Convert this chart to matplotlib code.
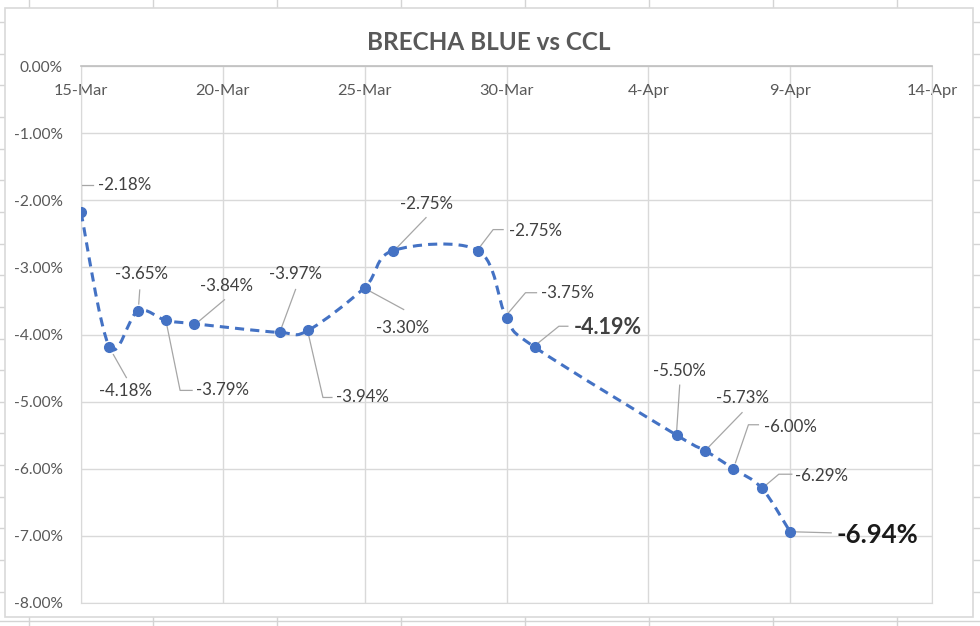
import datetime as dt
import matplotlib
matplotlib.use("Agg")
import matplotlib.pyplot as plt
import matplotlib.dates as mdates
import matplotlib.transforms as mtransforms
from matplotlib.path import Path
from matplotlib.patches import PathPatch, Rectangle
from matplotlib.lines import Line2D
from matplotlib.ticker import FuncFormatter, MultipleLocator

plt.rcParams['font.family'] = ['Lato', 'DejaVu Sans']

# datos (2021)
fechas = ["2021-03-15", "2021-03-16", "2021-03-17", "2021-03-18", "2021-03-19",
          "2021-03-22", "2021-03-23", "2021-03-25", "2021-03-26", "2021-03-29",
          "2021-03-30", "2021-03-31", "2021-04-05", "2021-04-06", "2021-04-07",
          "2021-04-08", "2021-04-09"]
brecha = [-2.18, -4.18, -3.65, -3.79, -3.84, -3.97, -3.94, -3.30, -2.75, -2.75,
          -3.75, -4.19, -5.50, -5.73, -6.00, -6.29, -6.94]
etiquetas = [f"{v:.2f}%" for v in brecha]
destacados = {11: 15.5, 16: 18.5}   # indice -> tamaño de fuente (negrita)

# posicion de etiquetas y lineas guia (pixeles respecto al punto, y hacia abajo)
pos_etiqueta = [(44, -27), (16, 44), (4, -37), (56, 70), (32, -38), (16, -58),
                (55, 67), (38, 40), (33, -47), (57, -20), (61, -25), (73, -20),
                (3, -64), (37, -53), (57, -42), (60, -12), (87, 3)]
guias = [[(0, -5), (0, -27), (12, -27)], [(4, 8), (17, 31)], [(1, -7), (2, -21)],
         [(1, 6), (14, 70), (26, 70)], [(5, -3), (30, -24)], [(2, -5), (16, -43)],
         [(1, 6), (15, 67), (24, 67)], [(4, 3), (39, 22)], [(4, -3), (33, -33)],
         [(2, -4), (15, -21), (25, -21)], [(2, -5), (19, -25), (30, -25)],
         [(3, -4), (24, -21), (33, -21)], [(0, -5), (3, -50)], [(4, -4), (37, -38)],
         [(2, -6), (15, -44), (25, -44)], [(4, -3), (17, -14), (30, -14)],
         [(5, 0), (41, 1)]]

W, H = 980, 626
fig = plt.figure(figsize=(W / 100, H / 100), dpi=100)


def fx(x):
    return x / W


def fy(y):
    return 1 - y / H


# cuadricula de la hoja de calculo alrededor del grafico
gris_hoja = '#d4d4d4'
for x in [29, 153, 277, 401, 525, 649, 773, 897]:
    fig.add_artist(Line2D([fx(x), fx(x)], [fy(0), fy(8)], color=gris_hoja, lw=1, zorder=-2))
    fig.add_artist(Line2D([fx(x), fx(x)], [fy(617), fy(626)], color=gris_hoja, lw=1, zorder=-2))
for k in range(20):
    y = 22 + 31.65 * k
    if y < 617:
        fig.add_artist(Line2D([fx(0), fx(5)], [fy(y), fy(y)], color=gris_hoja, lw=1, zorder=-2))
        fig.add_artist(Line2D([fx(973), fx(980)], [fy(y), fy(y)], color=gris_hoja, lw=1, zorder=-2))
fig.add_artist(Line2D([0, 1], [fy(621), fy(621)], color=gris_hoja, lw=1, zorder=-2))
fig.add_artist(Rectangle((fx(5), fy(617)), fx(968), 609 / H, facecolor='white',
                         edgecolor='#d9d9d9', lw=1.2, zorder=-1))

ax = fig.add_axes([fx(81), fy(603), fx(932 - 81), (603 - 66) / H])
ax.set_facecolor('none')

x = mdates.date2num([dt.datetime.strptime(f, "%Y-%m-%d") for f in fechas])
x0 = mdates.date2num(dt.datetime(2021, 3, 15))
x1 = mdates.date2num(dt.datetime(2021, 4, 14))
ax.set_xlim(x0, x1)
ax.set_ylim(-8, 0)

# linea suavizada (bezier tipo Catmull-Rom como Excel)
pts = list(zip(x, brecha))
verts = [pts[0]]
codes = [Path.MOVETO]
for i in range(len(pts) - 1):
    p0 = pts[i - 1] if i > 0 else pts[i]
    p1, p2 = pts[i], pts[i + 1]
    p3 = pts[i + 2] if i + 2 < len(pts) else pts[i + 1]
    c1 = (p1[0] + (p2[0] - p0[0]) / 6, p1[1] + (p2[1] - p0[1]) / 6)
    c2 = (p2[0] - (p3[0] - p1[0]) / 6, p2[1] - (p3[1] - p1[1]) / 6)
    verts += [c1, c2, p2]
    codes += [Path.CURVE4] * 3
azul = '#4472C4'
ax.add_patch(PathPatch(Path(verts, codes), fill=False, edgecolor=azul, lw=2.2,
                       linestyle=(0, (3, 2)), capstyle='butt', zorder=3))
ax.plot(x, brecha, 'o', color=azul, ms=7, zorder=4)

# ejes
ax.set_xticks([x0 + 5 * k for k in range(7)])
ax.xaxis.set_major_formatter(FuncFormatter(
    lambda v, p: f"{mdates.num2date(v).day}-{mdates.num2date(v):%b}"))
ax.xaxis.set_ticks_position('top')
ax.yaxis.set_major_locator(MultipleLocator(1))
ax.yaxis.set_major_formatter(FuncFormatter(lambda v, p: f"{v:.2f}%"))
ax.tick_params(axis='x', length=0, pad=-23, labelsize=11.8, labelcolor='#595959')
ax.tick_params(axis='y', length=0, pad=13, labelsize=11.2, labelcolor='#595959')
ax.grid(True, color='#d9d9d9', lw=1)
ax.set_axisbelow(True)
for s in ['left', 'right', 'bottom']:
    ax.spines[s].set_color('#d9d9d9')
ax.spines['top'].set_color('#bfbfbf')
ax.spines['top'].set_linewidth(1.2)

# etiquetas de datos con lineas guia
for i, (xi, yi) in enumerate(pts):
    tr = mtransforms.Affine2D().scale(1, -1) + mtransforms.ScaledTranslation(xi, yi, ax.transData)
    gx = [g[0] for g in guias[i]]
    gy = [g[1] for g in guias[i]]
    ax.add_line(Line2D(gx, gy, transform=tr, color='#a6a6a6', lw=0.9, zorder=2))
    dx, dy = pos_etiqueta[i]
    if i in destacados:
        ax.annotate(etiquetas[i], (xi, yi), xytext=(dx, -dy), textcoords='offset pixels',
                    ha='center', va='center', fontsize=destacados[i], fontweight='bold',
                    color='#1a1a1a' if i == 16 else '#404040', zorder=5)
    else:
        ax.annotate(etiquetas[i], (xi, yi), xytext=(dx, -dy), textcoords='offset pixels',
                    ha='center', va='center', fontsize=12.2, color='#404040', zorder=5)

fig.text(fx(489), fy(43), "BRECHA BLUE vs CCL", ha='center', va='center',
         fontsize=17.5, fontweight='bold', color='#595959')

fig.savefig("out.png", dpi=100)
